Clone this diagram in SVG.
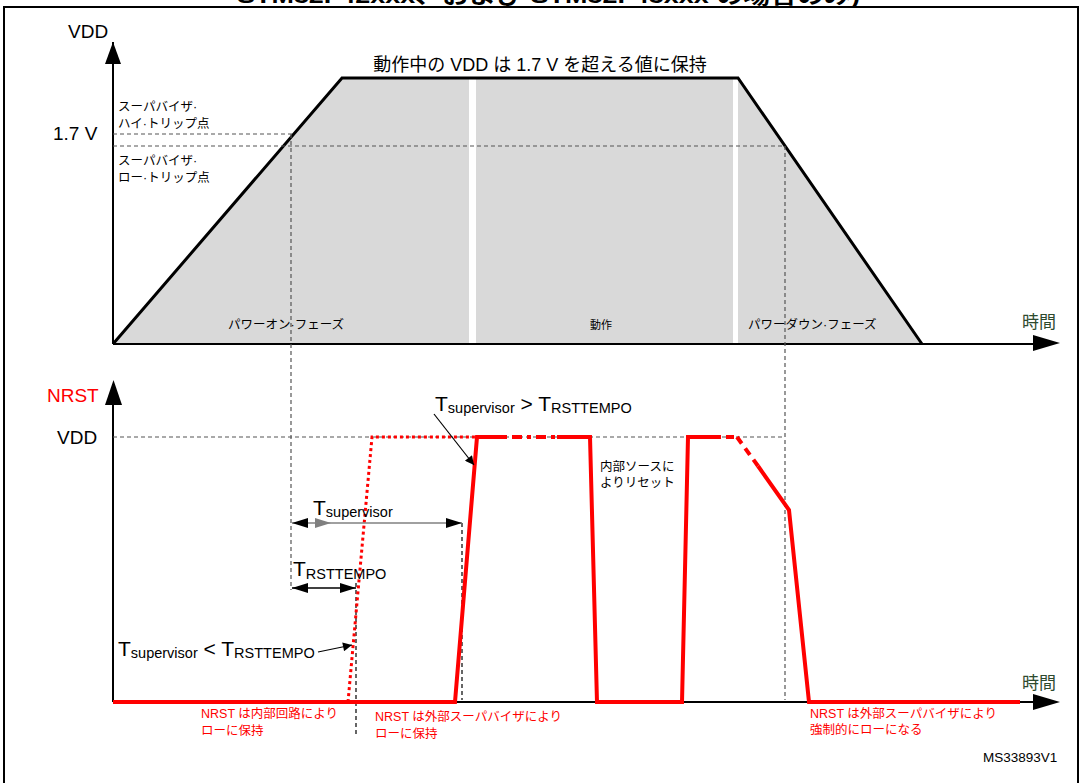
<svg xmlns="http://www.w3.org/2000/svg" width="1082" height="783" viewBox="0 0 1082 783">
<style>
text{font-family:"Liberation Sans","Noto Sans CJK JP",sans-serif;fill:#000}
.red{fill:#ff0000}
.lbl{font-size:12.5px}
.big{font-size:19px}
.T{font-size:21px}
.sub{font-size:14.5px}
.time{font-size:17px;fill:#2e4a2e}
.dash{stroke:#555;stroke-width:1.2;stroke-dasharray:4 3;fill:none}
.dashk{stroke:#000;stroke-width:1.2;stroke-dasharray:4 3;fill:none}
.axis{stroke:#000;stroke-width:2;fill:none}
.wave{stroke:#ff0000;stroke-width:4;fill:none;stroke-linejoin:miter}
</style>
<defs>
<marker id="ah" viewBox="0 0 10 10" refX="10" refY="5" markerWidth="16" markerHeight="10" markerUnits="userSpaceOnUse" orient="auto"><path d="M0,0 L10,5 L0,10 z" fill="#000"/></marker>
<marker id="ahs" viewBox="0 0 10 10" refX="10" refY="5" markerWidth="12" markerHeight="9" markerUnits="userSpaceOnUse" orient="auto"><path d="M0,0 L10,5 L0,10 z" fill="#000"/></marker>
</defs>
<rect width="1082" height="783" fill="#fff"/>
<text x="237" y="3" font-size="22" font-weight="bold" textLength="623" lengthAdjust="spacingAndGlyphs">STM32F42xxx、および STM32F43xxx の場合のみ)</text>
<rect x="4" y="7" width="1074" height="800" fill="none" stroke="#000" stroke-width="2"/>

<g id="vdd-graph">
<polygon points="113,344 342,78 738,78 922,344" fill="#d9d9d9"/>
<rect x="469" y="78" width="7" height="266" fill="#fff"/>
<rect x="733" y="78" width="5" height="266" fill="#fff"/>
<polyline points="113,344 342,78 738,78 922,344" fill="none" stroke="#000" stroke-width="3"/>
</g>

<g id="axes">
<path d="M113,344 V42" class="axis"/>
<path d="M105,64 L113,42 L121,64 z" fill="#000"/>
<path d="M113,344 H1040" class="axis"/>
<path d="M1033,335 L1060,343 L1033,351 z" fill="#000"/>
<path d="M113,702 V384" class="axis"/>
<path d="M105,405 L113.5,380 L122,405 z" fill="#000"/>
<path d="M113,702 H1040" class="axis"/>
<path d="M1033,694 L1060,702 L1033,710 z" fill="#000"/>
</g>

<g id="guides">
<path d="M113,134 H292" class="dash"/>
<path d="M113,146 H785" class="dash"/>
<path d="M113,437 H785" class="dash"/>
<path d="M291,134 V590" class="dash"/>
<path d="M785,146 V700" class="dash"/>
<path d="M356,583 V735" class="dashk"/>
<path d="M462,523 V700" class="dashk"/>
</g>

<g id="nrst-wave">
<polyline points="348,702 372,437 477,437" fill="none" stroke="#ff0000" stroke-width="3" stroke-dasharray="3 3"/>
<polyline points="113,702 455,702 477,437 503,437" class="wave"/>
<path d="M503,437 H557" class="wave" stroke-dasharray="4 5 10 5 4 5 10 5"/>
<polyline points="557,437 590,437 597,702 682,702 688,437 713,437" class="wave"/>
<path d="M713,437 H737" class="wave" stroke-dasharray="8 5"/>
<path d="M737,437 L758,466" class="wave" stroke-dasharray="8 6"/>
<polyline points="758,466 789,510 809,702 1020,702" class="wave"/>
</g>

<g id="connectors">
<path d="M292,523 H462" stroke="#808080" stroke-width="1.5"/>
<path d="M308,518 L292,523 L308,528 z" fill="#000"/>
<path d="M315,518 L331,523 L315,528 z" fill="#808080"/>
<path d="M446,518 L462,523 L446,528 z" fill="#000"/>
<path d="M292,588 H356" stroke="#000" stroke-width="1.5"/>
<path d="M308,583 L292,588 L308,593 z" fill="#000"/>
<path d="M340,583 L356,588 L340,593 z" fill="#000"/>
<path d="M318,652 L352,645" stroke="#000" stroke-width="1.2" marker-end="url(#ahs)"/>
<path d="M434,414 L474,465" stroke="#000" stroke-width="1.2" marker-end="url(#ahs)"/>
</g>

<g id="labels-top">
<text x="68" y="38" class="big">VDD</text>
<text x="53" y="140" class="big">1.7 V</text>
<text x="118" y="111" class="lbl">スーパバイザ·</text>
<text x="118" y="128" class="lbl">ハイ·トリップ点</text>
<text x="118" y="165" class="lbl">スーパバイザ·</text>
<text x="118" y="182" class="lbl">ロー·トリップ点</text>
<text x="540" y="71" font-size="18" text-anchor="middle">動作中の VDD は 1.7 V を超える値に保持</text>
<text x="228" y="329" class="lbl">パワーオン·フェーズ</text>
<text x="590" y="329" font-size="11">動作</text>
<text x="748" y="329" class="lbl">パワーダウン·フェーズ</text>
<text x="1022" y="328" class="time">時間</text>
</g>

<g id="labels-nrst">
<text x="47" y="402" class="big red">NRST</text>
<text x="57" y="444" class="big">VDD</text>
<text x="1022" y="689" class="time">時間</text>
<text x="313" y="515" class="T">T<tspan class="sub" dy="2">supervisor</tspan></text>
<text x="293" y="576" class="T">T<tspan class="sub" dy="3">RSTTEMPO</tspan></text>
<text x="118" y="656" class="T">T<tspan class="sub" dy="2">supervisor</tspan><tspan dy="-2"> &lt; T</tspan><tspan class="sub" dy="2">RSTTEMPO</tspan></text>
<text x="435" y="411" class="T">T<tspan class="sub" dy="2">supervisor</tspan><tspan dy="-2"> &gt; T</tspan><tspan class="sub" dy="2">RSTTEMPO</tspan></text>
<text x="600" y="471" class="lbl">内部ソースに</text>
<text x="600" y="487" class="lbl">よりリセット</text>
<text x="201" y="718" class="lbl red">NRST は内部回路により</text>
<text x="201" y="735" class="lbl red">ローに保持</text>
<text x="375" y="721" class="lbl red">NRST は外部スーパバイザにより</text>
<text x="375" y="738" class="lbl red">ローに保持</text>
<text x="810" y="718" class="lbl red">NRST は外部スーパバイザにより</text>
<text x="810" y="734" class="lbl red">強制的にローになる</text>
<text x="983" y="762" font-size="13.5">MS33893V1</text>
</g>
</svg>
